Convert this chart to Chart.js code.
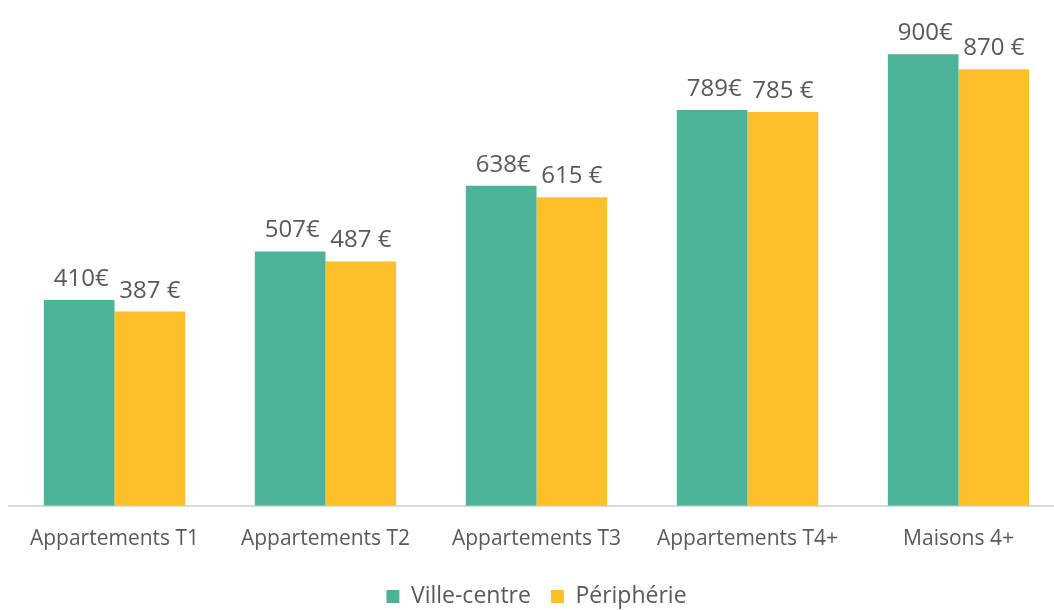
<!DOCTYPE html>
<html>
<head>
<meta charset="utf-8">
<script src="https://cdn.jsdelivr.net/npm/chart.js@4"></script>
<style>
  html, body { margin: 0; padding: 0; background: #fff; overflow: hidden; }
  #wrap { width: 1064px; height: 618px; }
</style>
</head>
<body>
<div id="wrap"><canvas id="myChart"></canvas></div>
<script>
// values
const categories = ['Appartements T1', 'Appartements T2', 'Appartements T3', 'Appartements T4+', 'Maisons 4+'];
const villeCentre = [410, 507, 638, 789, 900];
const peripherie = [387, 487, 615, 785, 870];
const seriesNames = ['Ville-centre', 'Périphérie'];
const labelSuffix = ['€', ' €'];

const textGrey = '#595959';
const fontName = 'Open Sans';

// draws the value above each bar
const barLabels = {
    id: 'barLabels',
    afterDatasetsDraw(chart) {
        const ctx = chart.ctx;
        ctx.save();
        ctx.font = '24px "' + fontName + '"';
        ctx.fillStyle = textGrey;
        ctx.textAlign = 'center';
        ctx.textBaseline = 'alphabetic';
        chart.data.datasets.forEach((ds, i) => {
            chart.getDatasetMeta(i).data.forEach((bar, j) => {
                ctx.fillText(ds.data[j] + labelSuffix[i], bar.x + (i === 0 ? 2 : 0), bar.y - 14);
            });
        });
        ctx.restore();
    }
};

const chartConfig = {
    type: 'bar',
    data: {
        labels: categories,
        datasets: [{
            label: seriesNames[0],
            backgroundColor: '#4BB398',
            data: villeCentre,
        },
        {
            label: seriesNames[1],
            backgroundColor: '#FDBF2A',
            data: peripherie,
        }],
    },
    options: {
        responsive: true,
        maintainAspectRatio: false,
        animation: false,
        categoryPercentage: 0.67,
        barPercentage: 1,
        layout: { padding: { left: 9, top: 4, right: 0, bottom: 0 } },
        plugins: {
            legend: {
                position: 'bottom',
                labels: {
                    boxWidth: 13,
                    boxHeight: 13,
                    padding: 20,
                    color: textGrey,
                    font: { family: fontName, size: 23 }
                }
            },
            tooltip: { enabled: false }
        },
        scales: {
            x: {
                grid: { display: false },
                border: { color: '#d9d9d9', width: 2 },
                ticks: {
                    color: textGrey,
                    padding: 13,
                    font: { family: fontName, size: 21 }
                }
            },
            y: {
                display: false,
                min: 0,
                max: 1000
            }
        }
    },
    plugins: [barLabels]
};

const myChart = new Chart(document.getElementById('myChart'), chartConfig);
</script>
</body>
</html>
